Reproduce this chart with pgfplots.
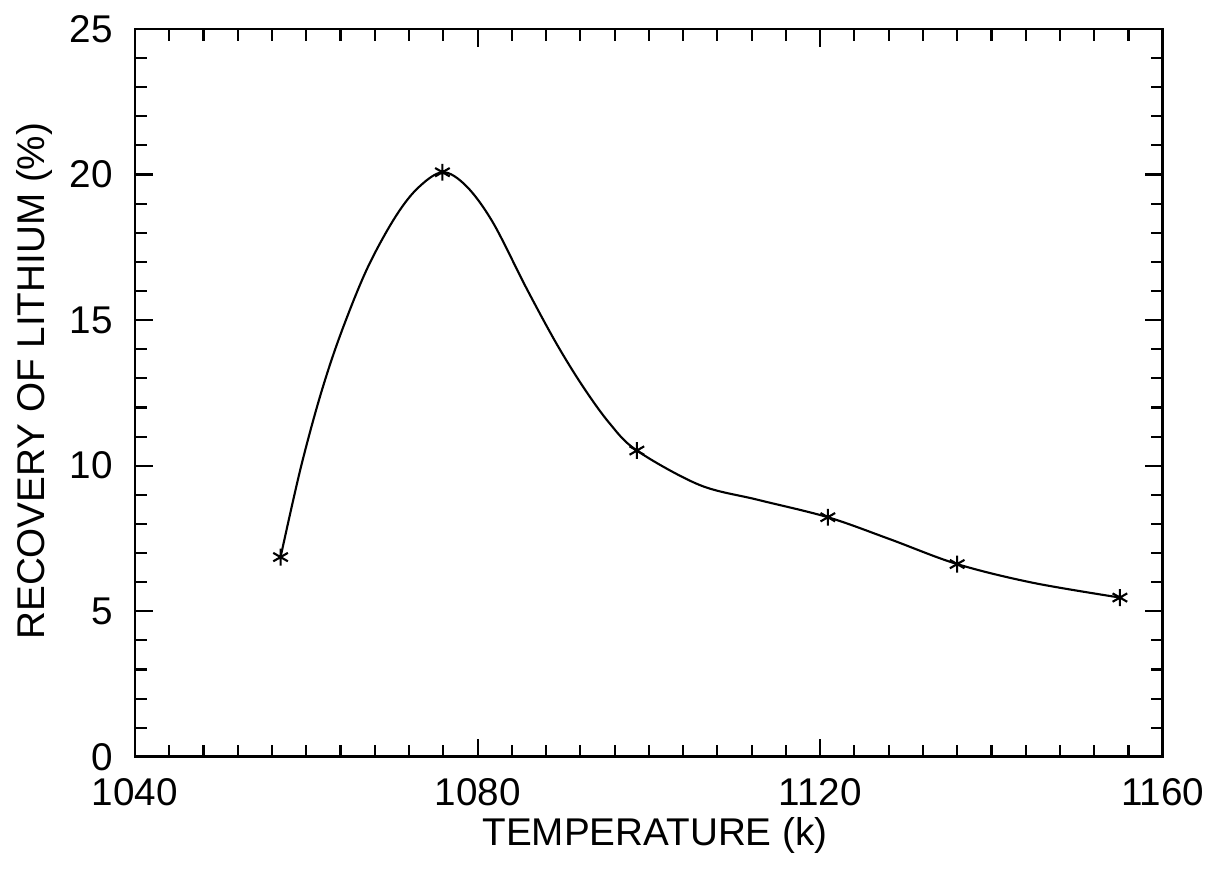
\documentclass[border=0pt]{standalone}
\usepackage{pgfplots}
\pgfplotsset{compat=1.18}
\usepackage{fontspec}
\setmainfont{Liberation Sans}
\begin{document}
\begin{tikzpicture}
\begin{axis}[
  at={(0,0)}, anchor=south west,
  scale only axis,
  width=102.8mm, height=72.8mm,
  xmin=1040, xmax=1160, ymin=0, ymax=25,
  xtick={1040,1080,1120,1160},
  ytick={0,5,10,15,20,25},
  minor x tick num=9,
  minor y tick num=4,
  tick align=inside,
  major tick length=1.8mm,
  minor tick length=1.2mm,
  tick style={black, line width=0.6pt},
  axis line style={line width=0.8pt},
  /pgf/number format/assume math mode=true,
  /pgf/number format/1000 sep={},
  tick label style={font=\fontsize{11}{13}\selectfont},
  xticklabel style={anchor=center, yshift=-3.5mm},
  yticklabel style={xshift=-1mm},
  label style={font=\fontsize{11}{13}\selectfont},
  xlabel={TEMPERATURE (k)},
  ylabel={RECOVERY OF LITHIUM (\%)},
  x label style={at={(axis description cs:0.506,-0.1085)}, anchor=center},
  y label style={at={(axis description cs:-0.0973,0.516)}, anchor=center, rotate=0},
  clip=false,
]
\addplot[black, line width=0.6pt, smooth, tension=0.55, no marks] coordinates {
(1057.0,6.86) (1059.3,9.86) (1061.6,12.37) (1063.9,14.43) (1067.0,16.7)
(1070.2,18.45) (1072.9,19.5) (1075.9,20.08) (1078.7,19.6) (1081.8,18.35)
(1085.7,16.1) (1089.2,14.2) (1092.3,12.72) (1095.4,11.46) (1098.6,10.52)
(1105.9,9.34) (1112.7,8.83) (1120.9,8.23) (1128.1,7.48) (1136.0,6.62)
(1144.8,5.98) (1155.0,5.47)
};
\addplot[black, only marks, mark=asterisk, mark size=2.4pt, mark options={line width=0.6pt}] coordinates {
(1057.0,6.86) (1075.9,20.08) (1098.6,10.52) (1120.9,8.23) (1136.0,6.62) (1155.0,5.47)
};
\end{axis}
\path (-13.5mm,-13mm) rectangle (108.1mm,75.7mm);
\end{tikzpicture}
\end{document}
